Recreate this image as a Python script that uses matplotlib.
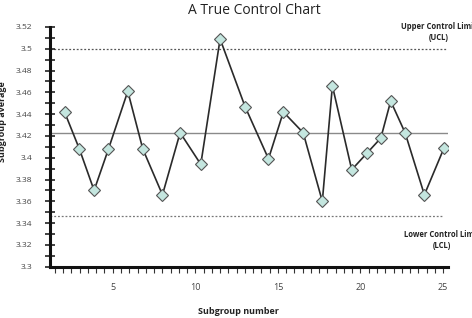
import matplotlib
matplotlib.use('Agg')
import matplotlib.pyplot as plt
import numpy as np

plt.rcParams['font.family'] = ['Open Sans', 'DejaVu Sans']

# 子组编号（图中点位并非等距）与子组均值
subgroup = [2.08, 2.98, 3.87, 4.74, 5.91, 6.82, 8.01, 9.08, 10.33, 11.5, 13.01, 14.43,
            15.33, 16.53, 17.69, 18.3, 19.47, 20.38, 21.23, 21.83, 22.7, 23.87, 25.06]
average = [3.442, 3.408, 3.370, 3.408, 3.461, 3.408, 3.366, 3.423, 3.394, 3.509, 3.447, 3.399,
           3.442, 3.423, 3.360, 3.466, 3.389, 3.404, 3.418, 3.452, 3.423, 3.366, 3.409]
center = 3.423
ucl = 3.4995
lcl = 3.3465

fig = plt.figure(figsize=(4.72, 3.18), dpi=100)
ax = fig.add_axes([50 / 472, 1 - 266.7 / 318, 398 / 472, 239.7 / 318])

ax.axhline(center, color='#8a8a8a', lw=1.0, zorder=1)
ax.axhline(ucl, color='#555555', lw=0.9, ls=(0, (1.5, 1.5)), zorder=1)
ax.axhline(lcl, xmax=0.987, color='#777777', lw=0.9, ls=(0, (1.5, 1.5)), zorder=1)

ax.plot(subgroup, average, color='#2a2a2a', lw=1.2, marker='D', ms=6.5,
        markerfacecolor='#c4e6df', markeredgecolor='#555555', markeredgewidth=0.8, zorder=3)

ax.set_xlim(1.2, 25.3)
ax.set_ylim(3.30, 3.52)
ax.set_xticks([5, 10, 15, 20, 25])
ax.set_xticks(np.arange(1.5, 25.1, 0.5), minor=True)
ax.set_yticks(np.round(np.arange(3.30, 3.521, 0.02), 2))
ax.set_yticks(np.round(np.arange(3.31, 3.52, 0.02), 2), minor=True)
ax.set_yticklabels(['3.3', '3.32', '3.34', '3.36', '3.38', '3.4', '3.42', '3.44',
                    '3.46', '3.48', '3.5', '3.52'])

for s in ['top', 'right']:
    ax.spines[s].set_visible(False)
for s in ['left', 'bottom']:
    ax.spines[s].set_linewidth(2.2)
    ax.spines[s].set_color('#111111')

ax.tick_params(axis='y', which='both', direction='inout', length=7, width=1.2,
               color='#222222', labelsize=6, labelcolor='#444444', pad=9)
ax.tick_params(axis='x', which='both', direction='out', length=4, width=0.8,
               color='#333333', labelsize=6.5, labelcolor='#444444', pad=8)

ax.text(24.75, 3.5155, 'Upper Control Limit\n(UCL)', ha='center', va='center',
        fontsize=5.5, fontweight='bold', color='#222222', linespacing=1.35, clip_on=False)
ax.text(24.95, 3.3245, 'Lower Control Limit\n(LCL)', ha='center', va='center',
        fontsize=5.5, fontweight='bold', color='#222222', linespacing=1.35, clip_on=False)

fig.text(254 / 472, 1 - 11 / 318, 'A True Control Chart', ha='center', va='center',
         fontsize=10, color='#222222')
fig.text(238 / 472, 1 - 311 / 318, 'Subgroup number', ha='center', va='center',
         fontsize=6.5, fontweight='bold', color='#222222')
fig.text(3 / 472, 1 - 122 / 318, 'Subgroup average', ha='center', va='center',
         rotation=90, fontsize=6.5, fontweight='bold', color='#222222')

plt.savefig('out.png', dpi=100)
plt.close()
